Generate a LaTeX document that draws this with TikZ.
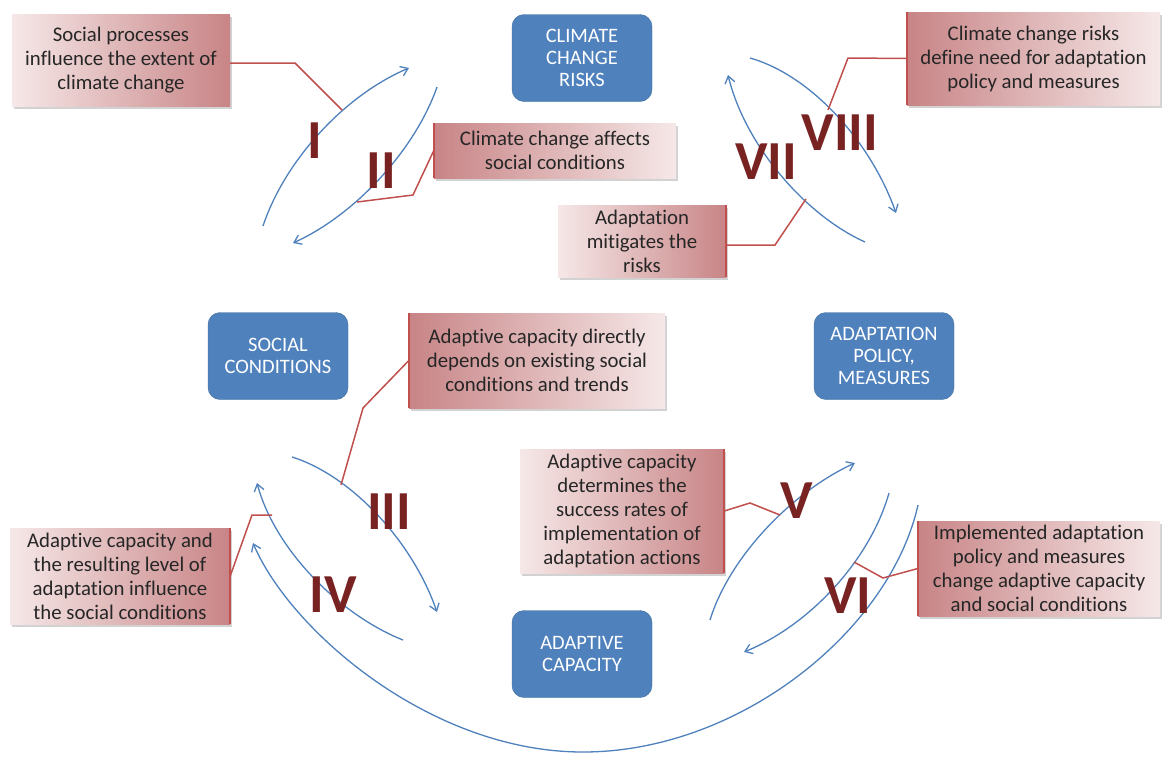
\documentclass[tikz,border=0pt]{standalone}
\usepackage{fontspec}
\setmainfont{Carlito}[Ligatures=NoCommon]
\usetikzlibrary{arrows.meta,shadows}

\definecolor{topicfill}{RGB}{79,129,189}
\definecolor{topicline}{RGB}{65,113,156}
\definecolor{notedark}{RGB}{200,132,134}
\definecolor{notelight}{RGB}{246,232,232}
\definecolor{notered}{RGB}{192,80,77}
\definecolor{numred}{RGB}{120,34,34}
\definecolor{notetext}{RGB}{38,38,38}

\tikzset{
    topic/.style={draw=topicline, fill=topicfill, rounded corners=12pt, text=white,
        minimum width=140pt, minimum height=87pt, align=center, inner sep=0pt,
        font=\fontsize{20.5}{22}\selectfont},
    note/.style={align=center, inner sep=0pt, text=notetext,
        font=\fontsize{20.8}{24}\selectfont,
        drop shadow={shadow xshift=1.5pt, shadow yshift=-3pt, opacity=0.35}},
    darkleft/.style={note, left color=notedark, right color=notelight},
    darkright/.style={note, left color=notelight, right color=notedark},
    noteside/.style={draw=notered, line width=2.5pt},
    lead/.style={draw=notered, line width=1.5pt},
    flow/.style={draw=topicfill, line width=1.3pt, -{Straight Barb[length=7pt,width=10pt]}},
    numeral/.style={text=numred, inner sep=0pt, font=\fontsize{55}{55}\selectfont\bfseries},
}

\begin{document}
\begin{tikzpicture}[x=1pt, y=-1pt]
    \fill[white] (0,0) rectangle (1164,756);
    \useasboundingbox (0,0) rectangle (1164,756);

    % the four topics
    \node[topic] (risks) at (582,58) {CLIMATE\\CHANGE\\RISKS};
    \node[topic] (social) at (278,356) {SOCIAL\\CONDITIONS};
    \node[topic] (policy) at (884,356) {ADAPTATION\\POLICY,\\MEASURES};
    \node[topic] (capacity) at (582,654) {ADAPTIVE\\CAPACITY};

    % curved flows
    \coordinate (aI) at (263,226);   \coordinate (bI) at (409,68);
    \coordinate (aII) at (437,87);   \coordinate (bII) at (293,243);
    \coordinate (aVIII) at (750,58); \coordinate (bVIII) at (896,213);
    \coordinate (aVII) at (865,242); \coordinate (bVII) at (728,75);
    \coordinate (aIII) at (292,457); \coordinate (bIII) at (437,612);
    \coordinate (aIV) at (403,640);  \coordinate (bIV) at (257,483);
    \coordinate (aV) at (710,620);   \coordinate (bV) at (855,463);
    \coordinate (aVI) at (889,493);  \coordinate (bVI) at (744,652);
    \coordinate (aBig) at (918,505); \coordinate (mBig) at (583,752); \coordinate (bBig) at (253,543);

    \draw[flow] (aI) .. controls (285,160) and (345,95) .. (bI);
    \draw[flow] (aII) .. controls (415,150) and (355,215) .. (bII);
    \draw[flow] (aVIII) .. controls (810,75) and (870,140) .. (bVIII);
    \draw[flow] (aVII) .. controls (805,215) and (745,145) .. (bVII);
    \draw[flow] (aIII) .. controls (350,475) and (412,540) .. (bIII);
    \draw[flow] (aIV) .. controls (340,615) and (275,550) .. (bIV);
    \draw[flow] (aV) .. controls (730,555) and (795,490) .. (bV);
    \draw[flow] (aVI) .. controls (870,560) and (810,625) .. (bVI);
    \draw[flow] (aBig) .. controls (890,630) and (740,752) .. (mBig)
        .. controls (430,752) and (290,630) .. (bBig);

    % notes
    \node[darkright, minimum width=218pt, minimum height=92pt] (noteI) at (121,60)
        {Social processes\\influence the extent of\\climate change};
    \node[darkleft, minimum width=242pt, minimum height=55pt] (noteII) at (555,150.5)
        {Climate change affects\\social conditions};
    \node[darkleft, minimum width=253pt, minimum height=93pt] (noteVIII) at (1033.5,58.5)
        {Climate change risks\\define need for adaptation\\policy and measures};
    \node[darkright, minimum width=168pt, minimum height=72pt] (noteVII) at (642,241)
        {Adaptation\\mitigates the\\risks};
    \node[darkleft, minimum width=256pt, minimum height=95pt] (noteIII) at (537,360.5)
        {Adaptive capacity directly\\depends on existing social\\conditions and trends};
    \node[darkright, minimum width=204pt, minimum height=124pt] (noteV) at (622,511)
        {Adaptive capacity\\determines the\\success rates of\\implementation of\\adaptation actions};
    \node[darkleft, minimum width=242pt, minimum height=95pt] (noteVI) at (1039,568.5)
        {Implemented adaptation\\policy and measures\\change adaptive capacity\\and social conditions};
    \node[darkright, minimum width=220pt, minimum height=96pt] (noteIV) at (120,576)
        {Adaptive capacity and\\the resulting level of\\adaptation influence\\the social conditions};

    \draw[noteside] (noteII.north west) -- (noteII.south west);
    \draw[noteside] (noteVIII.north west) -- (noteVIII.south west);
    \draw[noteside] (noteVII.north east) -- (noteVII.south east);
    \draw[noteside] (noteIII.north west) -- (noteIII.south west);
    \draw[noteside] (noteV.north east) -- (noteV.south east);
    \draw[noteside] (noteVI.north west) -- (noteVI.south west);
    \draw[noteside] (noteIV.north east) -- (noteIV.south east);

    % leader lines
    \coordinate (kI) at (295,63);    \coordinate (tI) at (342,110);
    \coordinate (kII) at (413,195);  \coordinate (tII) at (357,202);
    \coordinate (kVIII) at (848,58); \coordinate (tVIII) at (828,110);
    \coordinate (kVII) at (775,245); \coordinate (tVII) at (806,199);
    \coordinate (kIII) at (363,408); \coordinate (tIII) at (341,485);
    \coordinate (kV) at (750,503);   \coordinate (tV) at (780,515);
    \coordinate (kVI) at (883,578);  \coordinate (tVI) at (854,562);
    \coordinate (kIV) at (252,515);  \coordinate (tIV) at (272,515);

    \draw[lead] (noteI.east |- kI) -- (kI) -- (tI);
    \draw[lead] (noteII.west) -- (kII) -- (tII);
    \draw[lead] (noteVIII.west) -- (kVIII) -- (tVIII);
    \draw[lead] (noteVII.east |- kVII) -- (kVII) -- (tVII);
    \draw[lead] (noteIII.west) -- (kIII) -- (tIII);
    \draw[lead] (noteV.east) -- (kV) -- (tV);
    \draw[lead] (noteVI.west) -- (kVI) -- (tVI);
    \draw[lead] (noteIV.east) -- (kIV) -- (tIV);

    % numerals
    \node[numeral] (numI) at (315,141) {I};
    \node[numeral] (numII) at (381,171) {II};
    \node[numeral] (numIII) at (389,512) {III};
    \node[numeral] (numIV) at (333,595) {IV};
    \node[numeral] (numV) at (797,501) {V};
    \node[numeral] (numVI) at (848,596) {VI};
    \node[numeral] (numVII) at (766,162) {VII};
    \node[numeral] (numVIII) at (840,133) {VIII};
\end{tikzpicture}
\end{document}
